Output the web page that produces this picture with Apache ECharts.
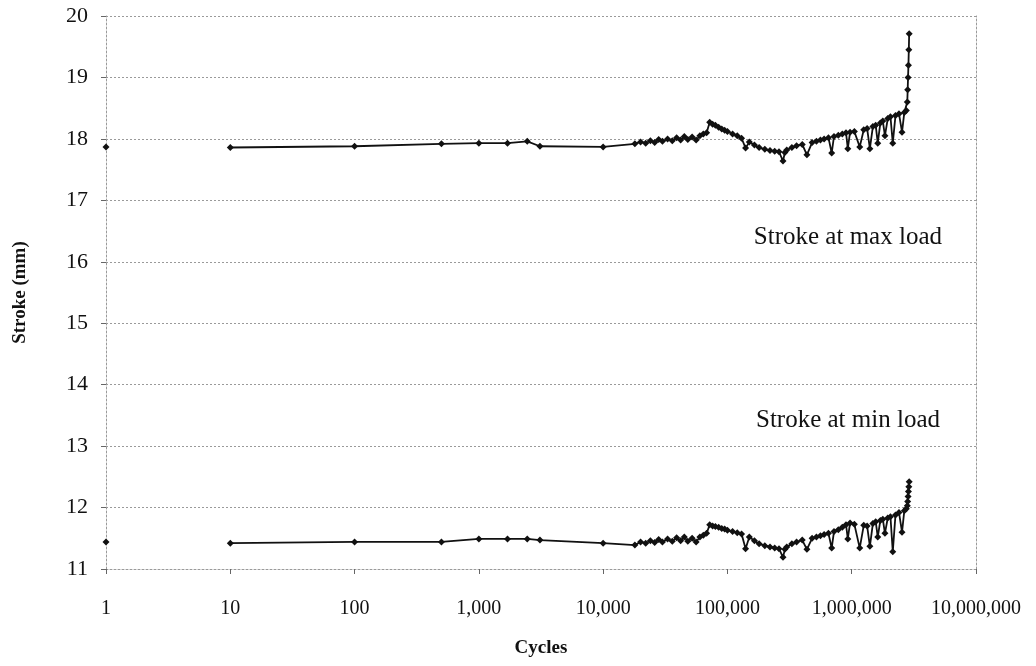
<!DOCTYPE html>
<html>
<head>
<meta charset="utf-8">
<script src="https://cdn.jsdelivr.net/npm/echarts@6/dist/echarts.min.js"></script>
<style>
  html, body { margin: 0; padding: 0; background: #fff; }
  #main { width: 1036px; height: 666px; }
</style>
</head>
<body>
<div id="main"></div>
<script>
// cycles (x, log scale)
var cycles = [1, 10, 100, 500, 1000, 1700, 2450, 3100, 10000, 18000,
  20000, 22000, 24000, 26000, 28000, 30000, 33000, 36000, 39000, 42000,
  45000, 48000, 52000, 56000, 60000, 64000, 68000, 72000, 76000, 80000,
  85000, 90000, 95000, 100000, 110000, 120000, 130000, 140000, 150000, 165000,
  180000, 200000, 220000, 240000, 260000, 280000, 290000, 300000, 330000, 360000,
  400000, 436000, 480000, 520000, 560000, 600000, 650000, 690000, 720000, 780000,
  840000, 900000, 930000, 970000, 1050000, 1160000, 1250000, 1330000, 1400000, 1480000,
  1560000, 1620000, 1700000, 1780000, 1850000, 1950000, 2050000, 2140000, 2250000, 2400000,
  2540000, 2650000, 2750000, 2800000, 2820000, 2840000, 2860000, 2880000, 2900000];

// stroke at max load (mm)
var strokeMax = [17.87, 17.86, 17.88, 17.92, 17.93, 17.93, 17.96, 17.88, 17.87, 17.92,
  17.95, 17.93, 17.97, 17.94, 17.99, 17.96, 18.00, 17.97, 18.02, 17.98,
  18.04, 17.99, 18.03, 17.98, 18.05, 18.08, 18.10, 18.27, 18.24, 18.22,
  18.19, 18.16, 18.14, 18.12, 18.08, 18.05, 18.01, 17.85, 17.95, 17.90,
  17.86, 17.83, 17.81, 17.80, 17.79, 17.64, 17.78, 17.82, 17.86, 17.89,
  17.91, 17.74, 17.94, 17.96, 17.98, 18.00, 18.02, 17.77, 18.04, 18.06,
  18.08, 18.10, 17.84, 18.11, 18.12, 17.87, 18.15, 18.17, 17.84, 18.20,
  18.22, 17.93, 18.26, 18.29, 18.05, 18.33, 18.36, 17.93, 18.38, 18.41,
  18.11, 18.43, 18.46, 18.60, 18.80, 19.00, 19.20, 19.45, 19.71];

// stroke at min load (mm)
var strokeMin = [11.44, 11.42, 11.44, 11.44, 11.49, 11.49, 11.49, 11.47, 11.42, 11.39,
  11.44, 11.42, 11.46, 11.43, 11.48, 11.44, 11.49, 11.45, 11.51, 11.46,
  11.52, 11.45, 11.50, 11.44, 11.52, 11.55, 11.58, 11.72, 11.70, 11.69,
  11.68, 11.66, 11.65, 11.63, 11.61, 11.59, 11.57, 11.33, 11.52, 11.46,
  11.41, 11.38, 11.36, 11.34, 11.33, 11.19, 11.32, 11.36, 11.41, 11.44,
  11.47, 11.32, 11.50, 11.52, 11.54, 11.56, 11.58, 11.34, 11.61, 11.64,
  11.68, 11.72, 11.49, 11.75, 11.73, 11.34, 11.71, 11.70, 11.37, 11.74,
  11.77, 11.52, 11.79, 11.81, 11.58, 11.83, 11.85, 11.28, 11.88, 11.92,
  11.60, 11.95, 11.98, 12.03, 12.10, 12.18, 12.26, 12.34, 12.42];

var yTicks = [11, 20, 1]; // min, max, interval

// the first reading (cycle 1) is not joined to the rest
function pairs(vals) {
    var out = [];
    for (var i = 0; i < cycles.length; i++) {
        out.push([cycles[i], vals[i]]);
        if (i === 0) out.push(['-', '-']);
    }
    return out;
}

var myChart = echarts.init(document.getElementById('main'));
var serif = 'Liberation Serif';
var dotted = { color: '#9a9a9a', type: [2, 2], width: 1 };

var lineSeries = function (name, vals) {
    return {
        name: name,
        type: 'line',
        data: pairs(vals),
        connectNulls: false,
        symbol: 'diamond',
        symbolSize: 7,
        showAllSymbol: true,
        itemStyle: { color: '#111' },
        lineStyle: { color: '#111', width: 1.8 }
    };
};

var option = {
    animation: false,
    backgroundColor: '#fff',
    grid: { left: 106, right: 60, top: 16, bottom: 97 },
    xAxis: {
        type: 'log',
        logBase: 10,
        min: 1,
        max: 10000000,
        name: 'Cycles',
        nameLocation: 'middle',
        nameGap: 70,
        nameTextStyle: { fontFamily: serif, fontSize: 19, fontWeight: 'bold', color: '#111' },
        axisLine: { show: true, lineStyle: dotted },
        axisTick: { show: true, length: 5, lineStyle: { color: '#666' } },
        axisLabel: {
            margin: 30,
            fontFamily: serif,
            fontSize: 20,
            color: '#111',
            formatter: function (v) { return Number(v).toLocaleString('en-US'); }
        },
        splitLine: { show: false }
    },
    yAxis: [
        {
            type: 'value',
            min: yTicks[0],
            max: yTicks[1],
            interval: yTicks[2],
            name: 'Stroke (mm)',
            nameLocation: 'middle',
            nameGap: 76,
            nameTextStyle: { fontFamily: serif, fontSize: 19, fontWeight: 'bold', color: '#111' },
            axisLine: { show: true, lineStyle: dotted },
            axisTick: { show: true, length: 5, lineStyle: { color: '#666' } },
            axisLabel: { margin: 18, fontFamily: serif, fontSize: 22, color: '#111' },
            splitLine: { show: true, lineStyle: dotted }
        },
        {
            type: 'value',
            position: 'right',
            min: yTicks[0],
            max: yTicks[1],
            interval: yTicks[2],
            axisLine: { show: true, lineStyle: dotted },
            axisTick: { show: false },
            axisLabel: { show: false },
            splitLine: { show: false }
        }
    ],
    graphic: [
        {
            type: 'text',
            right: 1036 - 942,
            top: 225,
            style: { text: 'Stroke at max load', fontFamily: serif, fontSize: 25, fill: '#111' }
        },
        {
            type: 'text',
            right: 1036 - 940,
            top: 408,
            style: { text: 'Stroke at min load', fontFamily: serif, fontSize: 25, fill: '#111' }
        }
    ],
    series: [
        lineSeries('Stroke at max load', strokeMax),
        lineSeries('Stroke at min load', strokeMin)
    ]
};
myChart.setOption(option);
</script>
</body>
</html>
